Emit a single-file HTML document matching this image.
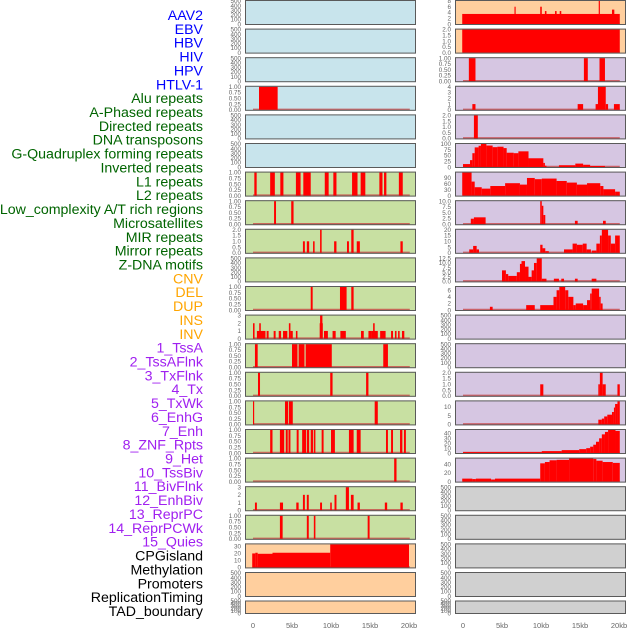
<!DOCTYPE html>
<html><head><meta charset="utf-8"><style>
html,body{margin:0;padding:0;background:#fff;}
svg{display:block;font-family:"Liberation Sans",sans-serif;}
</style></head><body>
<svg id="chart" width="630" height="630" viewBox="0 0 630 630" xmlns="http://www.w3.org/2000/svg">
<g id="labels"></g>
<g id="panels"></g>
<g id="xaxis"></g>
</svg>
<script>
const trackLabels = ["AAV2","EBV","HBV","HIV","HPV","HTLV-1","Alu repeats","A-Phased repeats","Directed repeats","DNA transposons","G-Quadruplex forming repeats","Inverted repeats","L1 repeats","L2 repeats","Low_complexity A/T rich regions","Microsatellites","MIR repeats","Mirror repeats","Z-DNA motifs","CNV","DEL","DUP","INS","INV","1_TssA","2_TssAFlnk","3_TxFlnk","4_Tx","5_TxWk","6_EnhG","7_Enh","8_ZNF_Rpts","9_Het","10_TssBiv","11_BivFlnk","12_EnhBiv","13_ReprPC","14_ReprPCWk","15_Quies","CPGisland","Methylation","Promoters","ReplicationTiming","TAD_boundary"];
const labelGroups = [6,13,5,15,5];
const xTickValues = [0,5,10,15,20];
const xTickLabels = ["0","5kb","10kb","15kb","20kb"];

const E = [0,100,200,300,400,500];
const P1 = [0,0.25,0.5,0.75,1];
// left column: ticks per row
const leftTicks = [E,E,E,P1,E,E,P1,P1,[0,0.5,1,1.5,2],E,P1,[0,1,2,3],P1,P1,P1,P1,P1,[0,1,2,3],P1,[0,10,20,30],E,E];
// left column bars: [startKb, endKb, value]
const leftBars = [
 [],[],[],
 [[0.77,3.16,1]],
 [],[],
 [[0.17,0.47,1],[2.2,2.8,1],[3.5,3.9,1],[5.5,6.1,1],[6.45,7.4,1],[9.2,9.7,1],[10.3,10.7,1],[12.7,13.4,1],[13.8,14.4,1],[16.2,16.6,1],[16.8,17.1,1],[18.7,19.2,1]],
 [[2.7,2.95,1],[4.9,5.2,1]],
 [[6.4,6.65,1],[6.9,7.2,1],[7.7,7.9,1],[8.6,8.8,2],[10.4,10.7,1],[12.05,12.3,1],[12.6,12.9,2],[13.3,13.7,1],[18.9,19.2,1]],
 [],
 [[7.4,7.65,1],[11.15,12.0,1],[12.6,12.9,1]],
 [[0,0.2,2],[0.5,1.6,1],[0.8,1.0,2],[1.75,2.0,1],[2.65,2.9,1],[3.3,3.6,1],[3.85,4.4,1],[4.6,4.8,2],[4.8,5.1,1],[5.5,5.7,1],[8.6,8.9,3],[8.55,8.95,2],[9.1,9.6,1],[10.2,10.6,1],[11.2,11.9,1],[13.85,14.2,1],[14.8,15.2,1],[15.2,16.0,1],[15.4,15.6,2],[16.3,17.0,1],[17.7,17.95,1],[18.2,18.4,1],[18.6,18.8,1],[19.1,19.4,1]],
 [[0.25,0.6,1],[5.0,5.7,1],[5.85,6.6,1],[6.75,10.1,1],[16.7,17.3,1]],
 [[0.64,0.9,1],[9.9,10.2,1],[14.5,14.8,1]],
 [[0,0.15,1],[4.1,4.5,1],[4.6,5.1,1],[15.6,16.0,1]],
 [[2.2,2.5,1],[3.45,4.0,1],[4.2,4.45,1],[4.55,4.8,1],[5.6,5.85,1],[6.3,6.8,1],[6.9,7.2,1],[7.4,7.7,1],[7.8,8.0,1],[8.8,9.05,1],[10.0,10.5,1],[12.3,12.9,1],[13.3,13.8,1],[17.05,17.3,1],[17.7,17.95,1],[18.85,19.15,1],[19.35,19.6,1]],
 [[18.1,18.4,1]],
 [[0.25,0.5,1],[3.45,3.85,1],[5.55,5.85,1],[6.4,6.65,2],[6.9,7.15,2],[8.6,8.85,1],[9.9,10.1,1],[10.45,10.7,2],[11.9,12.3,3],[12.55,12.9,2],[13.4,13.7,1],[16.9,17.2,1],[18.9,19.2,1]],
 [[3.45,3.8,1],[6.9,7.15,1],[7.8,8.0,1],[14.7,14.95,1]],
 [[-0.1,0.3,20],[0.3,0.6,21],[0.6,2.5,19.5],[2.5,9.9,21],[9.9,20.0,33]],
 [],[]
];
// right column
const rightTicks = [[0,2,4,6,8],[0,0.5,1,1.5,2],P1,[0,1,2,3,4],[0,0.5,1,1.5,2],[0,25,50,75,100],[0,30,60,90],[0,2.5,5,7.5,10],[0,5,10,15,20],[0,2.5,5,7.5,10,12.5],[0,2,4,6],E,E,[0,0.5,1,1.5,2],[0,5,10],[0,10,20,30,40],[0,20,40],E,E,E,E,E];
const rightBars = [
 [[-0.1,20.1,3.5],[6.6,6.75,6],[9.9,10.1,6],[10.5,10.7,4.5],[11.8,12.0,4.5],[12.4,12.6,4.5],[17.4,17.55,8],[19.1,19.4,5]],
 [[-0.1,20.1,2]],
 [[0.75,1.6,1],[15.5,16.0,1],[17.5,18.2,1]],
 [[1.2,1.6,1],[14.7,15.4,1],[17.0,17.35,1],[17.3,18.3,4],[18.3,18.6,1],[19.35,20.1,1]],
 [[1.4,1.9,2]],
 [[0,0.9,13],[0.9,1.2,30],[1.2,1.5,60],[1.5,2.0,85],[2.0,2.3,92],[2.3,3.0,100],[3.0,3.8,93],[3.8,4.4,86],[4.4,5.2,88],[5.2,5.6,82],[5.6,6.5,62],[6.5,7.1,60],[7.1,8.4,68],[8.4,10.3,38],[10.3,10.5,18],[10.5,10.7,6],[12.3,14.4,8],[14.4,15.4,15],[15.4,16.3,10],[16.3,18.2,5]],
 [[-0.1,1.1,115],[1.1,1.5,70],[1.5,2.4,42],[2.4,3.5,35],[3.5,5.4,48],[5.4,7.3,62],[7.3,8.2,55],[8.2,9.2,88],[9.2,10.1,82],[10.1,12.0,85],[12.0,13.3,73],[13.3,14.6,65],[14.6,15.9,55],[15.9,17.6,62],[17.6,18.0,48],[18.0,19.5,32],[19.5,20.1,20]],
 [[1.0,1.4,2.4],[1.4,2.9,3],[9.9,10.1,10],[10.1,10.3,8],[10.3,10.55,4],[14.35,14.7,1.5],[17.95,18.3,1.5]],
 [[0.8,1.3,3],[1.3,1.75,6],[1.75,2.05,3],[9.9,10.2,7],[10.2,10.55,4],[10.55,11.0,1.5],[12.95,14.05,3],[14.05,14.6,8],[14.6,15.35,7],[15.35,15.85,8],[15.85,16.4,3],[16.5,17.1,2],[17.1,17.55,8],[17.55,17.8,15],[17.8,18.6,20],[18.6,18.95,15],[18.95,19.5,8],[19.5,20.1,15]],
 [[5.0,5.5,6],[5.5,5.8,4],[5.8,6.9,3],[6.9,7.3,5],[7.3,7.5,9.5],[7.5,7.95,11],[7.95,8.4,8],[8.4,8.8,2.5],[8.8,9.1,6],[9.1,9.45,10],[9.45,10.1,12.5],[10.1,10.7,1.5],[11.65,12.3,1.5],[12.6,12.95,1.5],[14.35,14.7,1.5],[16.5,17.1,1.5]],
 [[3.45,3.8,1],[8.1,9.2,1.5],[9.9,11.6,1.5],[11.6,12.0,4],[12.0,12.35,6],[12.35,13.1,7],[13.1,13.5,6],[13.5,14.15,4],[14.15,14.45,1.5],[14.45,15.4,2],[15.4,15.9,1.5],[15.9,16.3,3],[16.3,16.5,5],[16.5,17.45,6.5],[17.45,17.65,4],[17.65,17.9,2]],
 [],[],
 [[9.9,10.3,1],[17.35,17.55,1],[17.55,17.9,2],[17.9,18.3,1],[19.8,20.1,1]],
 [[17.35,17.8,2.7],[17.8,18.1,3.3],[18.1,18.5,4.5],[18.5,19.1,5.5],[19.1,19.35,7],[19.35,19.5,9.5],[19.5,19.8,11.5],[19.8,20.1,13]],
 [[0,10.1,2],[10.1,12.65,4],[12.65,14.9,6],[14.9,15.8,8],[15.8,16.3,10],[16.3,16.7,13],[16.7,17.05,17],[17.05,17.45,23],[17.45,17.8,30],[17.8,18.2,38],[18.2,18.6,43],[18.6,19.55,47],[19.55,20.1,45]],
 [[-0.1,1.2,7],[1.2,1.65,6],[1.65,3.6,7],[3.6,4.1,5],[4.1,9.9,7],[9.9,10.5,42],[10.5,11.1,45],[11.1,12.0,49],[12.0,13.6,50],[13.6,16.7,53],[16.7,17.1,52],[17.1,17.9,48],[17.9,19.2,45],[19.2,20.1,43]],
 [],[],[],[],[]
];
const leftColors = ["#c8e4ec","#c8e4ec","#c8e4ec","#c8e4ec","#c8e4ec","#c8e4ec","#c8e0a2","#c8e0a2","#c8e0a2","#c8e0a2","#c8e0a2","#c8e0a2","#c8e0a2","#c8e0a2","#c8e0a2","#c8e0a2","#c8e0a2","#c8e0a2","#c8e0a2","#ffcf9e","#ffcf9e","#ffcf9e"];
const rightColors = ["#ffcf9e","#ffcf9e","#d6c6e2","#d6c6e2","#d6c6e2","#d6c6e2","#d6c6e2","#d6c6e2","#d6c6e2","#d6c6e2","#d6c6e2","#d6c6e2","#d6c6e2","#d6c6e2","#d6c6e2","#d6c6e2","#d6c6e2","#d0d0d0","#d0d0d0","#d0d0d0","#d0d0d0","#d0d0d0"];

const NS = "http://www.w3.org/2000/svg";
function mk(tag, attrs, parent){const e=document.createElementNS(NS,tag);for(const k in attrs)e.setAttribute(k,attrs[k]);parent.appendChild(e);return e;}
const KB_PX = 7.8;
function xScale(col, kb){return (col===0?253:463) + kb*KB_PX;}
function rowTop(i){return i<21 ? i*28.6 : 600.5;}
function rowH(i){return i<21 ? 25 : 13.5;}

const labColors = ["#0000ff","#006400","#ffa500","#a020f0","#000000"];
const gL = document.getElementById('labels');
let li=0;
labelGroups.forEach((n,g)=>{for(let k=0;k<n;k++){
  const t=mk('text',{x:203,y:15+li*13.86+5,'text-anchor':'end','font-size':'14.2',fill:labColors[g]},gL);
  t.textContent=trackLabels[li];
  
  
  li++;}});

const gP = document.getElementById('panels');
function drawPanel(col,i,ticks,bars,color){
  const left = col===0?245:455, W=171, T=rowTop(i), H=rowH(i);
  const g=mk('g',{},gP);
  
  
  const bg=mk('rect',{x:left,y:T,width:W,height:H,fill:color},g);
  
  
  let dmax = ticks[ticks.length-1];
  bars.forEach(b=>{if(b[2]>dmax)dmax=b[2];});
  const hi = dmax*1.04, lo = -dmax*0.04;
  const y = v => T+H-(v-lo)/(hi-lo)*H;
  const cp='cp'+col+'_'+i;
  const cl=mk('clipPath',{id:cp},g); mk('rect',{x:left,y:T,width:W,height:H},cl);
  const gb=mk('g',{'clip-path':'url(#'+cp+')'},g);
  if(bars.length){
    const bl=mk('line',{x1:xScale(col,0),x2:xScale(col,20.1),y1:y(0)-0.5,y2:y(0)-0.5,stroke:'#c84040','stroke-width':1.6,opacity:0.75},gb);
    
    
  }
  bars.forEach(b=>{
    const x0=xScale(col,b[0]), x1=xScale(col,b[1]);
    const r=mk('rect',{x:x0,y:y(b[2]),width:Math.max(0.8,x1-x0),height:y(0)-y(b[2]),fill:'#ff0000'},gb);
    
    
  });
  const fr=mk('rect',{x:left+0.5,y:T+0.5,width:W-1,height:H-1,fill:'none',stroke:'#5a5a5a','stroke-width':1},g);
  
  
  ticks.forEach(v=>{
    const t=mk('text',{x:left-4,y:y(v)+2.2,'text-anchor':'end','font-size':'6.3',fill:'#666'},g);
    t.textContent=String(v);
    if(ticks===P1) t.textContent=v.toFixed(2);
    if(ticks[1]===0.5||ticks[1]===2.5) t.textContent=v.toFixed(1);
    
    
  });
}
for(let i=0;i<22;i++){
  drawPanel(0,i,leftTicks[i],leftBars[i],leftColors[i]);
  drawPanel(1,i,rightTicks[i],rightBars[i],rightColors[i]);
}
const gX=document.getElementById('xaxis');
[0,1].forEach(col=>{
  xTickValues.forEach((v,k)=>{
    const t=mk('text',{x:xScale(col,v),y:628,'text-anchor':'middle','font-size':'7.5',fill:'#666'},gX);
    t.textContent=xTickLabels[k];
    
    
  });
});
</script>
</body></html>
